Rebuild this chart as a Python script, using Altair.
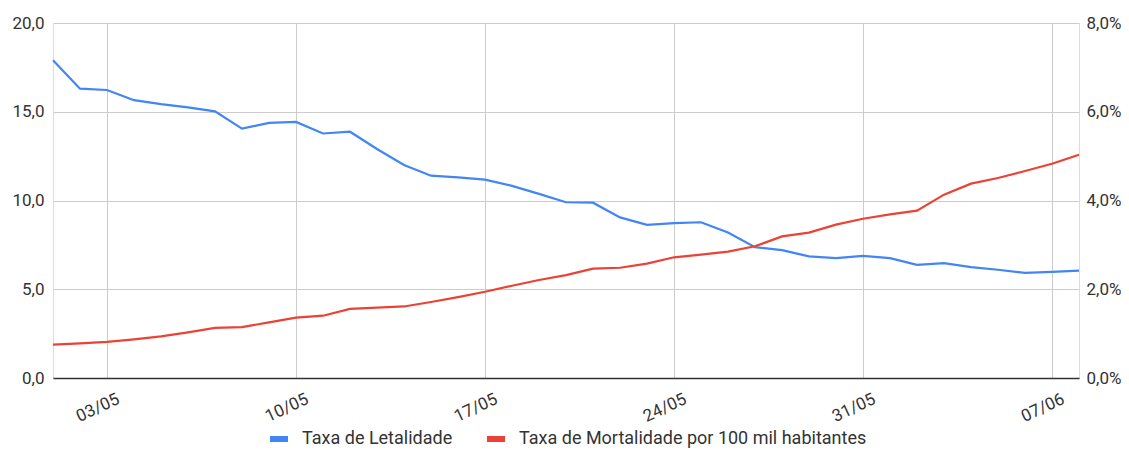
import altair as alt
import pandas as pd

datas = [
    "2020-05-01", "2020-05-02", "2020-05-03", "2020-05-04", "2020-05-05", "2020-05-06",
    "2020-05-07", "2020-05-08", "2020-05-09", "2020-05-10", "2020-05-11", "2020-05-12",
    "2020-05-13", "2020-05-14", "2020-05-15", "2020-05-16", "2020-05-17", "2020-05-18",
    "2020-05-19", "2020-05-20", "2020-05-21", "2020-05-22", "2020-05-23", "2020-05-24",
    "2020-05-25", "2020-05-26", "2020-05-27", "2020-05-28", "2020-05-29", "2020-05-30",
    "2020-05-31", "2020-06-01", "2020-06-02", "2020-06-03", "2020-06-04", "2020-06-05",
    "2020-06-06", "2020-06-07", "2020-06-08",
]

# Taxa de Letalidade (%), eixo direito
letalidade = [
    7.16, 6.52, 6.49, 6.26, 6.17, 6.10, 6.01, 5.62, 5.75, 5.77, 5.51, 5.55, 5.16,
    4.80, 4.56, 4.52, 4.47, 4.33, 4.15, 3.96, 3.95, 3.62, 3.45, 3.49, 3.51, 3.28,
    2.95, 2.88, 2.74, 2.70, 2.75, 2.70, 2.55, 2.59, 2.50, 2.44, 2.37, 2.39, 2.42,
]

# Taxa de Mortalidade por 100 mil habitantes, eixo esquerdo
mortalidade = [
    1.88, 1.95, 2.03, 2.18, 2.35, 2.57, 2.82, 2.87, 3.13, 3.40, 3.51, 3.89, 3.96,
    4.03, 4.28, 4.56, 4.86, 5.20, 5.52, 5.80, 6.16, 6.21, 6.44, 6.80, 6.95, 7.12,
    7.42, 7.98, 8.19, 8.64, 8.97, 9.22, 9.43, 10.33, 10.95, 11.27, 11.66, 12.07, 12.58,
]

series = ["Taxa de Letalidade", "Taxa de Mortalidade por 100 mil habitantes"]
cores = ["#4285F4", "#EA4335"]
x_ticks = [(5, 3), (5, 10), (5, 17), (5, 24), (5, 31), (6, 7)]
y_left_ticks = [0, 5, 10, 15, 20]
y_right_ticks = [0, 2, 4, 6, 8]

df_let = pd.DataFrame({"data": datas, "valor": letalidade, "serie": series[0]})
df_mort = pd.DataFrame({"data": datas, "valor": mortalidade, "serie": series[1]})

FONT = "Roboto"
LABEL_COLOR = "#333333"
AXIS_FS = 17

x_enc = alt.X(
    "data:T",
    scale=alt.Scale(
        type="utc",
        domain=[alt.DateTime(year=2020, month=5, date=1, utc=True),
                alt.DateTime(year=2020, month=6, date=8, utc=True)],
    ),
    axis=alt.Axis(
        title=None,
        values=[alt.DateTime(year=2020, month=m, date=d, utc=True) for m, d in x_ticks],
        format="%d/%m",
        labelAngle=335,
        labelAlign="right",
        labelBaseline="middle",
        labelPadding=20,
        labelOffset=11,
        labelFontSize=AXIS_FS,
        labelFont=FONT,
        labelColor=LABEL_COLOR,
        ticks=False,
        grid=True,
        gridColor="#cccccc",
        gridWidth=1,
        domain=True,
        domainColor="#333333",
        domainWidth=1.5,
    ),
)

color_enc = alt.Color(
    "serie:N",
    scale=alt.Scale(domain=series, range=cores),
    legend=alt.Legend(
        title=None,
        orient="none",
        legendX=214,
        legendY=404,
        direction="horizontal",
        padding=0,
        symbolType="stroke",
        symbolSize=324,
        symbolStrokeWidth=6,
        labelFontSize=18,
        labelFont=FONT,
        labelColor=LABEL_COLOR,
        labelLimit=0,
        labelOffset=11,
        columnPadding=22,
    ),
)

linha_let = alt.Chart(df_let).mark_line(strokeWidth=2.2).encode(
    x=x_enc,
    y=alt.Y(
        "valor:Q",
        scale=alt.Scale(domain=[0, 8]),
        axis=alt.Axis(
            orient="right",
            title=None,
            values=y_right_ticks,
            labelExpr="replace(format(datum.value, '.1f'), '.', ',') + '%'",
            grid=False,
            ticks=False,
            domain=False,
            labelPadding=7,
            labelFontSize=AXIS_FS,
            labelFont=FONT,
            labelColor=LABEL_COLOR,
        ),
    ),
    color=color_enc,
)

linha_mort = alt.Chart(df_mort).mark_line(strokeWidth=2.2).encode(
    x=x_enc,
    y=alt.Y(
        "valor:Q",
        scale=alt.Scale(domain=[0, 20]),
        axis=alt.Axis(
            orient="left",
            title=None,
            values=y_left_ticks,
            labelExpr="replace(format(datum.value, '.1f'), '.', ',')",
            grid=True,
            gridColor="#cccccc",
            gridWidth=1,
            ticks=False,
            domain=False,
            labelPadding=9,
            labelFontSize=AXIS_FS,
            labelFont=FONT,
            labelColor=LABEL_COLOR,
        ),
    ),
    color=color_enc,
)

chart = (
    alt.layer(linha_let, linha_mort)
    .resolve_scale(y="independent")
    .properties(
        width=1026,
        height=355,
        autosize=alt.AutoSizeParams(type="none"),
        padding={"left": 45, "top": 15, "right": 42, "bottom": 73},
    )
    .configure_view(stroke=None)
    .configure(font=FONT)
)

chart.save("out.html", embed_options={"renderer": "svg", "actions": False})
